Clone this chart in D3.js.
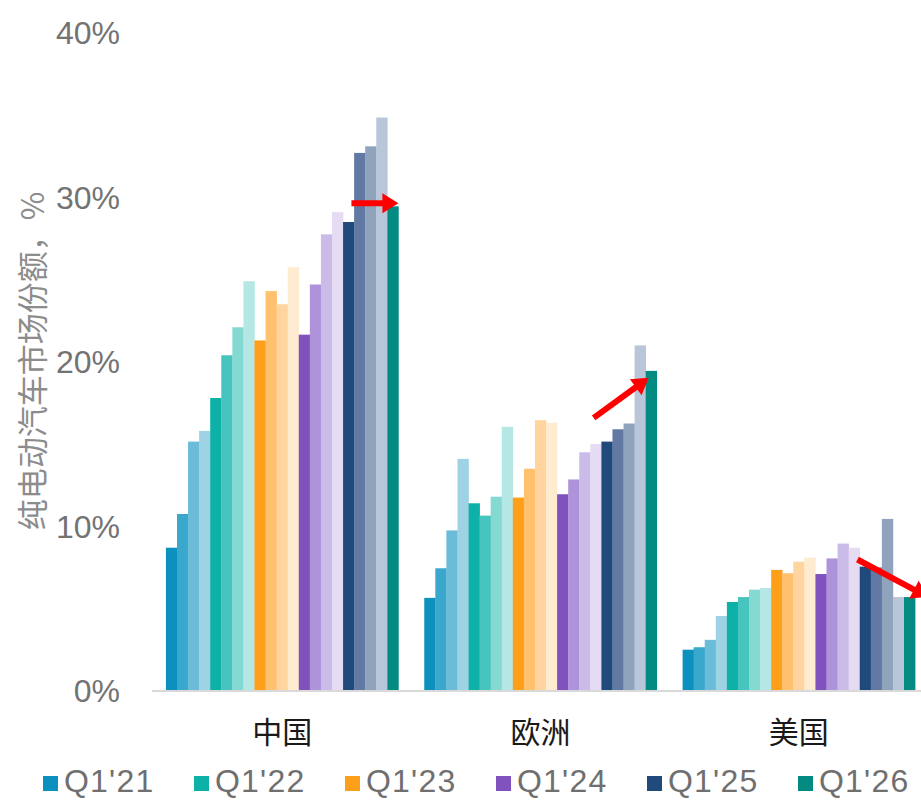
<!DOCTYPE html>
<html>
<head>
<meta charset="utf-8">
<script src="https://cdn.jsdelivr.net/npm/d3@7"></script>
<style>
  body { margin: 0; background: #fff; }
  svg { display: block; }
</style>
</head>
<body>
<div class="chart"></div>
<script>
var width = 921,
    height = 800;

// data
var regions = ["中国", "欧洲", "美国"];
var quarters = ["Q1'21", "Q2'21", "Q3'21", "Q4'21",
                "Q1'22", "Q2'22", "Q3'22", "Q4'22",
                "Q1'23", "Q2'23", "Q3'23", "Q4'23",
                "Q1'24", "Q2'24", "Q3'24", "Q4'24",
                "Q1'25", "Q2'25", "Q3'25", "Q4'25",
                "Q1'26"];
var chinaShare  = [8.65, 10.7, 15.1, 15.75, 17.75, 20.35, 22.05, 24.85, 21.25, 24.25, 23.45, 25.7,
                   21.6, 24.65, 27.7, 29.05, 28.45, 32.65, 33.05, 34.8, 29.4];
var europeShare = [5.6, 7.4, 9.7, 14.05, 11.35, 10.6, 11.75, 16.0, 11.7, 13.45, 16.4, 16.25,
                   11.9, 12.8, 14.45, 14.95, 15.1, 15.85, 16.2, 20.95, 19.4];
var usShare     = [2.45, 2.6, 3.05, 4.5, 5.35, 5.65, 6.1, 6.2, 7.3, 7.1, 7.8, 8.05,
                   7.05, 8.0, 8.9, 8.65, 7.5, 7.45, 10.4, 5.65, 5.65];
var legendKeys = ["Q1'21", "Q1'22", "Q1'23", "Q1'24", "Q1'25", "Q1'26"];
var yTicks = [0, 10, 20, 30, 40];

var colors = ["#0c90bd", "#3aa7cc", "#6bbcd9", "#9dd3e4",
              "#0db1a8", "#47c4bd", "#84d9d2", "#b5e7e4",
              "#fe9f19", "#ffc16e", "#ffd49e", "#ffebd0",
              "#7f52be", "#ae93da", "#cbbbe8", "#e5dcf4",
              "#214a7c", "#6279a3", "#8fa3bd", "#b9c6d9",
              "#038b82"];
var legendColors = [colors[0], colors[4], colors[8], colors[12], colors[16], colors[20]];

var series = [chinaShare, europeShare, usShare];

var svg = d3.select(".chart").append("svg")
  .attr("width", width)
  .attr("height", height);

var x0 = d3.scaleBand()
  .domain(regions)
  .range([153, 928])
  .paddingInner(0.1)
  .paddingOuter(0.05);

var x1 = d3.scaleBand()
  .domain(quarters)
  .range([0, x0.bandwidth()]);

var y = d3.scaleLinear()
  .domain([0, 40])
  .range([690, 32]);

// y axis labels
var yAxis = d3.axisLeft(y)
  .tickValues(yTicks)
  .tickFormat(d => d + "%")
  .tickSize(0)
  .tickPadding(0);

svg.append("g")
  .attr("transform", "translate(120,0)")
  .call(yAxis)
  .call(g => g.select(".domain").remove())
  .selectAll("text")
    .attr("dy", "0.36em")
    .style("font-family", "'Liberation Sans', Arial, sans-serif")
    .style("font-size", "32px")
    .style("fill", "#737373");

svg.append("text")
  .attr("transform", "translate(30,361) rotate(-90)")
  .attr("text-anchor", "middle")
  .attr("dominant-baseline", "central")
  .style("font-family", "'Noto Sans CJK SC', sans-serif")
  .style("font-size", "31px")
  .style("fill", "#8c8c8c")
  .text("纯电动汽车市场份额，%");

// bars
var groups = svg.selectAll(".region")
  .data(regions)
  .enter().append("g")
    .attr("class", "region")
    .attr("transform", d => "translate(" + x0(d) + ",0)");

groups.selectAll("rect")
  .data((d, i) => series[i].map((v, j) => ({ q: quarters[j], v: v, c: colors[j] })))
  .enter().append("rect")
    .attr("x", d => x1(d.q))
    .attr("y", d => y(d.v))
    .attr("width", x1.bandwidth() + 0.3)
    .attr("height", d => y(0) - y(d.v))
    .attr("fill", d => d.c);

// baseline
svg.append("line")
  .attr("x1", 152).attr("x2", width)
  .attr("y1", y(0) + 1).attr("y2", y(0) + 1)
  .attr("stroke", "#d9d9d9")
  .attr("stroke-width", 2);

// category labels
var xAxis = d3.axisBottom(x0).tickSize(0).tickPadding(0);
svg.append("g")
  .attr("transform", "translate(0," + 730 + ")")
  .call(xAxis)
  .call(g => g.select(".domain").remove())
  .selectAll("text")
    .attr("dy", "0")
    .attr("dominant-baseline", "central")
    .style("font-family", "'Noto Sans CJK SC', sans-serif")
    .style("font-size", "30px")
    .style("fill", "#1a1a1a");

// red arrows pointing at the Q1'26 bars
var last = quarters[quarters.length - 1];
function barLeft(r) { return x0(r) + x1(last); }
function barTop(r, i) { return y(series[i][series[i].length - 1]); }

var arrows = [
  { tip: [barLeft("中国") + x1.bandwidth(), barTop("中国", 0) - 3], len: 47, ang: 0 },
  { tip: [barLeft("欧洲") + 3, barTop("欧洲", 1) + 7], len: 68, ang: -36 },
  { tip: [barLeft("美国") + x1.bandwidth() + 13, barTop("美国", 2)], len: 80, ang: 28 }
];

function arrowPath(a) {
  var t = a.ang * Math.PI / 180,
      ux = Math.cos(t), uy = Math.sin(t),
      px = -uy, py = ux,
      hl = 16, hw = 10, sw = 3;
  var tx = a.tip[0], ty = a.tip[1];
  var bx = tx - ux * hl, by = ty - uy * hl;
  var sx = tx - ux * a.len, sy = ty - uy * a.len;
  var pts = [
    [sx + px * sw, sy + py * sw],
    [bx + px * sw, by + py * sw],
    [bx + px * hw, by + py * hw],
    [tx, ty],
    [bx - px * hw, by - py * hw],
    [bx - px * sw, by - py * sw],
    [sx - px * sw, sy - py * sw]
  ];
  return "M" + pts.map(p => p.join(",")).join("L") + "Z";
}

svg.selectAll(".arrow")
  .data(arrows)
  .enter().append("path")
    .attr("class", "arrow")
    .attr("d", arrowPath)
    .attr("fill", "#ff0000");

// legend
var lx = d3.scaleBand()
  .domain(legendKeys)
  .range([43, 43 + 151 * 6]);

var legend = svg.selectAll(".legend")
  .data(legendKeys)
  .enter().append("g")
    .attr("class", "legend")
    .attr("transform", d => "translate(" + lx(d) + ",0)");

legend.append("rect")
  .attr("x", 0)
  .attr("y", 776)
  .attr("width", 15)
  .attr("height", 15)
  .attr("fill", (d, i) => legendColors[i]);

legend.append("text")
  .attr("x", 21)
  .attr("y", 792)
  .style("font-family", "'Liberation Sans', Arial, sans-serif")
  .style("font-size", "32px")
  .style("letter-spacing", "1.2px")
  .style("fill", "#6f6f6f")
  .text(d => d);
</script>
</body>
</html>
